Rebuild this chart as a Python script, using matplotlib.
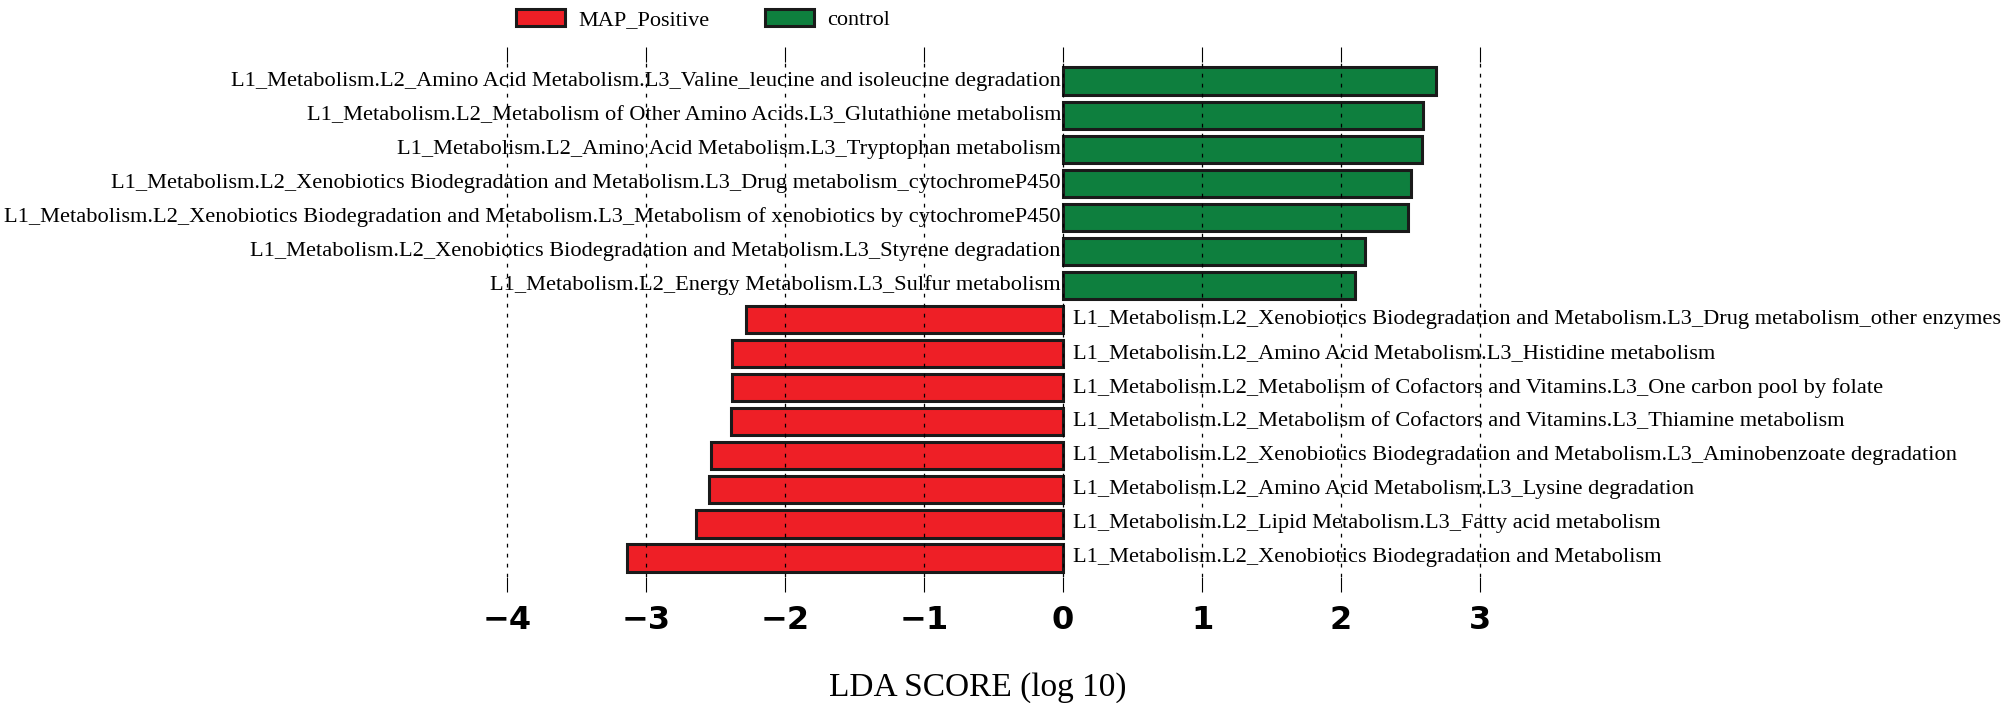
import matplotlib
matplotlib.use('Agg')
import matplotlib.pyplot as plt
from matplotlib.patches import Patch

# groups and their LDA scores, top row first
control_labels = [
    "L1_Metabolism.L2_Amino Acid Metabolism.L3_Valine_leucine and isoleucine degradation",
    "L1_Metabolism.L2_Metabolism of Other Amino Acids.L3_Glutathione metabolism",
    "L1_Metabolism.L2_Amino Acid Metabolism.L3_Tryptophan metabolism",
    "L1_Metabolism.L2_Xenobiotics Biodegradation and Metabolism.L3_Drug metabolism_cytochromeP450",
    "L1_Metabolism.L2_Xenobiotics Biodegradation and Metabolism.L3_Metabolism of xenobiotics by cytochromeP450",
    "L1_Metabolism.L2_Xenobiotics Biodegradation and Metabolism.L3_Styrene degradation",
    "L1_Metabolism.L2_Energy Metabolism.L3_Sulfur metabolism",
]
control_scores = [2.68, 2.59, 2.58, 2.50, 2.48, 2.17, 2.10]

map_labels = [
    "L1_Metabolism.L2_Xenobiotics Biodegradation and Metabolism.L3_Drug metabolism_other enzymes",
    "L1_Metabolism.L2_Amino Acid Metabolism.L3_Histidine metabolism",
    "L1_Metabolism.L2_Metabolism of Cofactors and Vitamins.L3_One carbon pool by folate",
    "L1_Metabolism.L2_Metabolism of Cofactors and Vitamins.L3_Thiamine metabolism",
    "L1_Metabolism.L2_Xenobiotics Biodegradation and Metabolism.L3_Aminobenzoate degradation",
    "L1_Metabolism.L2_Amino Acid Metabolism.L3_Lysine degradation",
    "L1_Metabolism.L2_Lipid Metabolism.L3_Fatty acid metabolism",
    "L1_Metabolism.L2_Xenobiotics Biodegradation and Metabolism",
]
map_scores = [-2.28, -2.38, -2.38, -2.39, -2.53, -2.55, -2.64, -3.14]

xticks = [-4, -3, -2, -1, 0, 1, 2, 3]

red = '#ee1f26'
green = '#0e7f3e'
serif = 'Liberation Serif'

fig = plt.figure(figsize=(20.08, 7.03), dpi=100)
ax = fig.add_axes([0.2179, 0.1792, 0.5538, 0.7326])

labels = control_labels + map_labels
scores = control_scores + map_scores
colors = [green] * len(control_scores) + [red] * len(map_scores)
n = len(labels)
ypos = [n - 1 - i for i in range(n)]

ax.barh(ypos, scores, height=0.8, color=colors, edgecolor='#1a1a1a', linewidth=2.2)

for y, s, lab in zip(ypos, scores, labels):
    if s > 0:
        ax.text(-0.015, y, lab, ha='right', va='center', fontsize=16.1, family=serif)
    else:
        ax.text(0.07, y, lab, ha='left', va='center', fontsize=16.1, family=serif)

ax.set_xlim(-4.5, 3.5)
ax.set_ylim(-0.56, n - 1 + 0.56)
ax.set_xticks(xticks)
ax.set_xticklabels(['\u2212%d' % abs(t) if t < 0 else str(t) for t in xticks],
                   fontsize=23, fontweight='bold', family='DejaVu Sans')
ax.set_yticks([])
ax.tick_params(axis='x', which='both', top=True, bottom=True, direction='out',
               length=11, width=0.8, pad=9)
for sp in ax.spines.values():
    sp.set_visible(False)
ax.xaxis.grid(True, linestyle=(0, (3, 5)), color='black', linewidth=0.9)
ax.set_axisbelow(False)

ax.set_xlabel('LDA SCORE (log 10)', fontsize=24, family=serif)
ax.xaxis.set_label_coords(0.486, -0.185)

handles = [Patch(facecolor=red, edgecolor='#1a1a1a', linewidth=2.2, label='MAP_Positive'),
           Patch(facecolor=green, edgecolor='#1a1a1a', linewidth=2.2, label='control')]
fig.legend(handles=handles, loc='upper center', bbox_to_anchor=(0.350, 1.0), ncol=2,
           frameon=False, prop={'family': serif, 'size': 16}, handlelength=2.2,
           handleheight=0.8, handletextpad=0.6, columnspacing=2.5, borderaxespad=0.0)

fig.savefig('out.png', dpi=100)
